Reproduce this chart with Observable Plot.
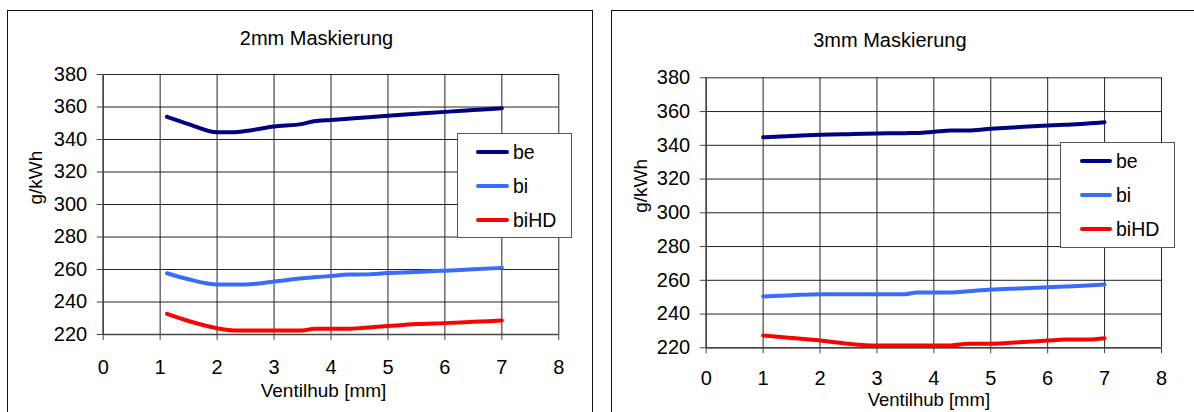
<!DOCTYPE html>
<html>
<head>
<meta charset="utf-8">
<script src="https://cdn.jsdelivr.net/npm/d3@7"></script>
<script src="https://cdn.jsdelivr.net/npm/@observablehq/plot@0.6"></script>
<style>
  html, body { margin: 0; padding: 0; background: #fff; }
  #wrap { position: relative; width: 1194px; height: 412px; overflow: hidden; background: #fff;
          font-family: "Liberation Sans", Arial, sans-serif; }
  .frame { position: absolute; border: 1.5px solid #111; box-sizing: border-box; }
  .chart { position: absolute; top: 0; }
  .legend { position: absolute; border: 1px solid #555; background: #fff; box-sizing: border-box; }
  .item { position: absolute; font-size: 19.5px; line-height: 20px; color: #000; }
  .sw { position: absolute; height: 4px; border-radius: 2px; }
</style>
</head>
<body>
<div id="wrap"></div>
<script>
// ---- data ----
const seriesNames = ["be", "bi", "biHD"];
const seriesColors = ["#000080", "#3a6bff", "#ff0000"];
const xTicks = [0, 1, 2, 3, 4, 5, 6, 7, 8];
const yTicks = [220, 240, 260, 280, 300, 320, 340, 360, 380];

const title2mm = "2mm Maskierung";
const x2mm = [1.12, 1.5, 2, 2.3, 2.5, 3, 3.5, 3.7, 4, 4.3, 4.6, 5, 5.5, 6, 6.5, 7];
const be2mm = [354, 349.5, 344.5, 344.5, 345.2, 348, 349.6, 351.2, 352, 352.8, 353.6, 354.6, 355.8, 357, 358.1, 359.2];
const bi2mm = [257.7, 254, 250.8, 250.8, 250.8, 252.6, 254.6, 255.2, 256, 256.9, 257, 257.8, 258.5, 259.3, 260.1, 261];
const biHD2mm = [232.7, 228.3, 223.9, 222.5, 222.5, 222.5, 222.5, 223.5, 223.5, 223.5, 224.2, 225.2, 226.4, 227, 227.8, 228.6];

const title3mm = "3mm Maskierung";
const x3mm = [1, 1.5, 2, 2.5, 3, 3.5, 3.7, 4, 4.3, 4.6, 5, 5.5, 6, 6.3, 6.7, 7];
const be3mm = [344.8, 345.5, 346.2, 346.6, 347, 347.2, 347.3, 348, 348.8, 348.8, 349.8, 350.8, 351.7, 352.2, 352.9, 353.7];
const bi3mm = [250.4, 251.2, 251.8, 251.8, 251.8, 251.8, 252.8, 252.8, 252.8, 253.5, 254.5, 255.2, 255.9, 256.3, 256.9, 257.5];
const biHD3mm = [227.3, 225.8, 224.3, 222.4, 221.4, 221.4, 221.4, 221.4, 221.4, 222.4, 222.4, 223.3, 224.3, 224.9, 224.9, 225.7];

const xLabel = "Ventilhub [mm]";
const yLabel = "g/kWh";

// ---- drawing ----
const wrap = document.getElementById("wrap");
const FONT = '"Liberation Sans", Arial, sans-serif';

function rowsOf(xs, lists) {
  const rows = [];
  lists.forEach((vals, k) => xs.forEach((x, i) => rows.push({x, v: vals[i], s: seriesNames[k]})));
  return rows;
}

function panel(cfg) {
  const fr = document.createElement("div");
  fr.className = "frame";
  Object.assign(fr.style, cfg.frame);
  wrap.appendChild(fr);

  const chart = Plot.plot({
    width: cfg.width, height: 412,
    marginLeft: cfg.mL, marginRight: cfg.mR, marginTop: cfg.mT, marginBottom: cfg.mB,
    x: {domain: [0, 8]},
    y: {domain: [220, 380]},
    color: {domain: seriesNames, range: seriesColors},
    style: {fontFamily: FONT, fontSize: "20px", color: "#000", background: "transparent", overflow: "visible"},
    marks: [
      Plot.gridY(yTicks, {stroke: "#222", strokeOpacity: 1, strokeWidth: 1}),
      Plot.gridX(xTicks, {stroke: "#222", strokeOpacity: 1, strokeWidth: 1}),
      Plot.ruleX([0], {stroke: "#444", strokeWidth: 1.5}),
      Plot.ruleY([220], {stroke: "#444", strokeWidth: 1.5}),
      Plot.axisY(yTicks, {tickSize: 6, tickPadding: 10, label: null, stroke: "#444", fontSize: 20}),
      Plot.axisX(xTicks, {tickSize: 6, tickPadding: cfg.xpad, label: null, stroke: "#444", fontSize: 20}),
      Plot.line(rowsOf(cfg.xs, cfg.lists), {x: "x", y: "v", z: "s", stroke: "s", strokeWidth: 4, curve: "monotone-x"}),
      Plot.text([cfg.title], {frameAnchor: "top", dx: cfg.tdx, dy: cfg.tdy, fontSize: 20, lineAnchor: "middle"}),
      Plot.text([xLabel], {frameAnchor: "bottom", dx: cfg.xdx, dy: cfg.xdy, fontSize: cfg.xfs, lineAnchor: "middle"}),
      Plot.text([yLabel], {frameAnchor: "left", dx: cfg.ydx, dy: 0, rotate: -90, fontSize: 19, lineAnchor: "middle"})
    ]
  });
  chart.classList.add("chart");
  chart.style.left = cfg.left + "px";
  wrap.appendChild(chart);

  const lg = document.createElement("div");
  lg.className = "legend";
  Object.assign(lg.style, cfg.legend);
  seriesNames.forEach((n, k) => {
    const sw = document.createElement("div");
    sw.className = "sw";
    sw.style.background = seriesColors[k];
    sw.style.left = cfg.sw.x + "px";
    sw.style.width = cfg.sw.w + "px";
    sw.style.top = (cfg.sw.y0 + k * cfg.sw.dy - 2) + "px";
    lg.appendChild(sw);
    const t = document.createElement("div");
    t.className = "item";
    t.textContent = n;
    t.style.left = cfg.sw.tx + "px";
    t.style.top = (cfg.sw.y0 + k * cfg.sw.dy - 10) + "px";
    lg.appendChild(t);
  });
  wrap.appendChild(lg);
}

panel({
  frame: {left: "7px", top: "10px", width: "586px", height: "520px"},
  left: 0, width: 597, mL: 102.7, mR: 38.7, mT: 74, mB: 78,
  xs: x2mm, lists: [be2mm, bi2mm, biHD2mm], title: title2mm,
  tdx: -14.5, tdy: -36, xdx: -7.5, xdy: 56, xfs: 19, xpad: 19, ydx: -67.7,
  legend: {left: "457px", top: "133px", width: "115px", height: "105px"},
  sw: {x: 18, w: 33, y0: 18, dy: 34, tx: 55}
});

panel({
  frame: {left: "611px", top: "10px", width: "700px", height: "520px"},
  left: 600, width: 594, mL: 105.7, mR: 33, mT: 77.3, mB: 64.7,
  xs: x3mm, lists: [be3mm, bi3mm, biHD3mm], title: title3mm,
  tdx: -44, tdy: -37.3, xdx: -5, xdy: 52.5, xfs: 18.5, xpad: 17, ydx: -65.7,
  legend: {left: "1060px", top: "142px", width: "115px", height: "106px"},
  sw: {x: 19, w: 32, y0: 18, dy: 34, tx: 55}
});
</script>
</body>
</html>
